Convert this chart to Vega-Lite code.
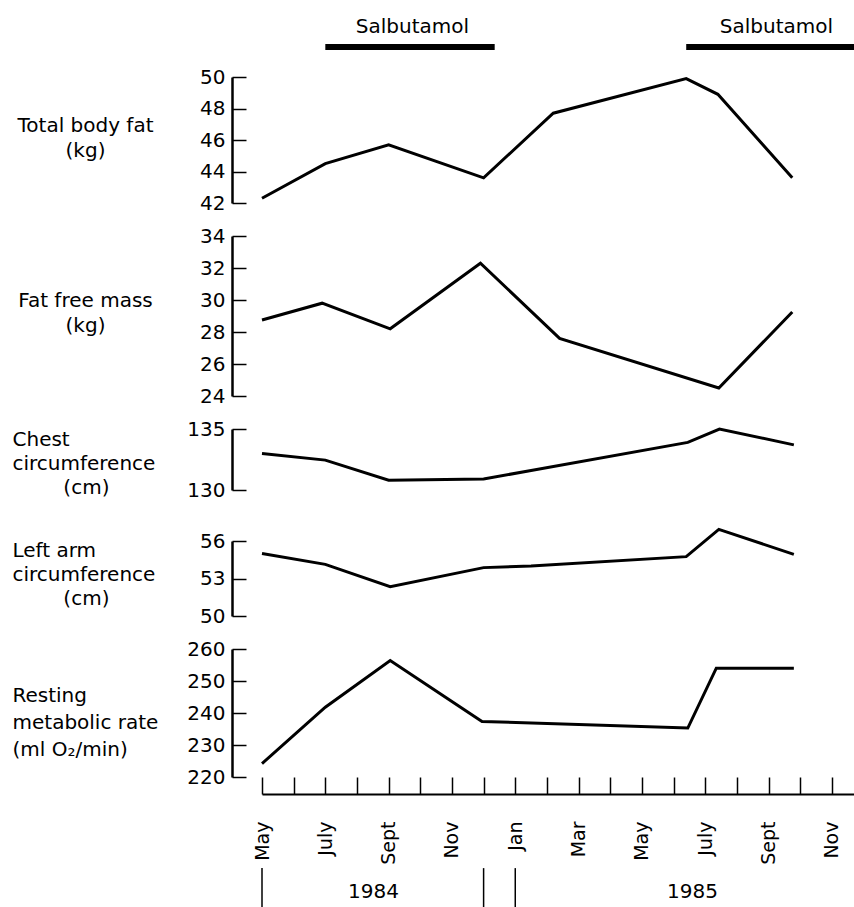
{
  "$schema": "https://vega.github.io/schema/vega-lite/v6.json",
  "background": "white",
  "padding": {"left": 12, "top": 0, "right": 0, "bottom": 0},
  "bounds": "flush",
  "spacing": 0,
  "config": {
    "font": "DejaVu Sans",
    "view": {"stroke": null},
    "axis": {
      "grid": false, "domainColor": "#000", "tickColor": "#000", "labelColor": "#000", "titleColor": "#000",
      "labelFont": "DejaVu Sans", "titleFont": "DejaVu Sans", "labelFontSize": 20, "titleFontSize": 20,
      "titleFontWeight": "normal", "labelFlush": false, "labelOverlap": false, "labelBound": false
    },
    "text": {"font": "DejaVu Sans", "fontSize": 20, "color": "#000"}
  },
  "vconcat": [
    {
      "width": 592, "height": 47,
      "data": {"values": [
        {"start": 2, "end": 7.35, "mid": 4.75, "label": "Salbutamol"},
        {"start": 13.4, "end": 18.7, "mid": 16.25, "label": "Salbutamol"}
      ]},
      "layer": [
        {
          "mark": {"type": "rule", "color": "#000", "strokeWidth": 6},
          "encoding": {
            "x": {"field": "start", "type": "quantitative", "scale": {"domain": [0, 18.7], "nice": false, "zero": false}, "axis": null},
            "x2": {"field": "end"},
            "y": {"datum": 0, "type": "quantitative", "scale": {"domain": [0, 1], "nice": false}, "axis": null}
          }
        },
        {
          "mark": {"type": "text", "fontSize": 20, "baseline": "middle", "align": "center"},
          "encoding": {
            "x": {"field": "mid", "type": "quantitative"},
            "y": {"datum": 0.43, "type": "quantitative"},
            "text": {"field": "label"}
          }
        }
      ]
    },
    {"width": 592, "height": 30, "data": {"values": []}, "mark": "point", "encoding": {}},
    {
      "width": 592, "height": 126,
      "data": {"values": [
        {"month": 0, "value": 42.3}, {"month": 2, "value": 44.5}, {"month": 4, "value": 45.7},
        {"month": 7, "value": 43.6}, {"month": 9.2, "value": 47.7}, {"month": 13.4, "value": 49.9},
        {"month": 14.4, "value": 48.9}, {"month": 16.75, "value": 43.6}
      ]},
      "mark": {"type": "line", "color": "#000", "strokeWidth": 3},
      "encoding": {
        "x": {"field": "month", "type": "quantitative", "scale": {"domain": [0, 18.7], "nice": false, "zero": false}, "axis": null},
        "y": {"field": "value", "type": "quantitative", "scale": {"domain": [42, 50], "nice": false, "zero": false},
          "axis": {"values": [42, 44, 46, 48, 50], "offset": 30, "tickSize": -14, "tickWidth": 1.5, "domainWidth": 2.5, "labelPadding": 21,
            "title": ["Total body fat", "(kg)"], "titleAngle": 0, "titleAlign": "center", "titleBaseline": "middle",
            "titleX": -147, "titleY": 48, "titleLineHeight": 25}}
      }
    },
    {"width": 592, "height": 33, "data": {"values": []}, "mark": "point", "encoding": {}},
    {
      "width": 592, "height": 160,
      "data": {"values": [
        {"month": 0, "value": 28.75}, {"month": 1.9, "value": 29.8}, {"month": 4.05, "value": 28.2},
        {"month": 6.9, "value": 32.3}, {"month": 9.4, "value": 27.6}, {"month": 14.43, "value": 24.5},
        {"month": 16.75, "value": 29.25}
      ]},
      "mark": {"type": "line", "color": "#000", "strokeWidth": 3},
      "encoding": {
        "x": {"field": "month", "type": "quantitative", "scale": {"domain": [0, 18.7], "nice": false, "zero": false}, "axis": null},
        "y": {"field": "value", "type": "quantitative", "scale": {"domain": [24, 34], "nice": false, "zero": false},
          "axis": {"values": [24, 26, 28, 30, 32, 34], "offset": 30, "tickSize": -14, "tickWidth": 1.5, "domainWidth": 2.5, "labelPadding": 21,
            "title": ["Fat free mass", "(kg)"], "titleAngle": 0, "titleAlign": "center", "titleBaseline": "middle",
            "titleX": -147, "titleY": 64, "titleLineHeight": 25}}
      }
    },
    {"width": 592, "height": 33, "data": {"values": []}, "mark": "point", "encoding": {}},
    {
      "width": 592, "height": 61,
      "data": {"values": [
        {"month": 0, "value": 133.0}, {"month": 2, "value": 132.45}, {"month": 4, "value": 130.8},
        {"month": 7, "value": 130.9}, {"month": 8.5, "value": 131.6}, {"month": 13.45, "value": 133.9},
        {"month": 14.45, "value": 135.0}, {"month": 16.8, "value": 133.7}
      ]},
      "mark": {"type": "line", "color": "#000", "strokeWidth": 3},
      "encoding": {
        "x": {"field": "month", "type": "quantitative", "scale": {"domain": [0, 18.7], "nice": false, "zero": false}, "axis": null},
        "y": {"field": "value", "type": "quantitative", "scale": {"domain": [130, 135], "nice": false, "zero": false},
          "axis": {"values": [130, 135], "offset": 30, "tickSize": -14, "tickWidth": 1.5, "domainWidth": 2.5, "labelPadding": 21,
            "title": ["Chest", "circumference", "\u200b\u00a0\u00a0\u00a0\u00a0\u00a0\u00a0\u00a0\u00a0(cm)"], "titleAngle": 0, "titleAlign": "left", "titleBaseline": "middle",
            "titleX": -220, "titleY": 10, "titleLineHeight": 24}}
      }
    },
    {"width": 592, "height": 51, "data": {"values": []}, "mark": "point", "encoding": {}},
    {
      "width": 592, "height": 75,
      "data": {"values": [
        {"month": 0, "value": 55.0}, {"month": 2, "value": 54.13}, {"month": 4.05, "value": 52.35},
        {"month": 7, "value": 53.87}, {"month": 8.5, "value": 54.0}, {"month": 13.4, "value": 54.75},
        {"month": 14.43, "value": 56.93}, {"month": 16.8, "value": 54.93}
      ]},
      "mark": {"type": "line", "color": "#000", "strokeWidth": 3},
      "encoding": {
        "x": {"field": "month", "type": "quantitative", "scale": {"domain": [0, 18.7], "nice": false, "zero": false}, "axis": null},
        "y": {"field": "value", "type": "quantitative", "scale": {"domain": [50, 56], "nice": false, "zero": false},
          "axis": {"values": [50, 53, 56], "offset": 30, "tickSize": -14, "tickWidth": 1.5, "domainWidth": 2.5, "labelPadding": 21,
            "title": ["Left arm", "circumference", "\u200b\u00a0\u00a0\u00a0\u00a0\u00a0\u00a0\u00a0\u00a0(cm)"], "titleAngle": 0, "titleAlign": "left", "titleBaseline": "middle",
            "titleX": -220, "titleY": 9, "titleLineHeight": 24}}
      }
    },
    {"width": 592, "height": 33, "data": {"values": []}, "mark": "point", "encoding": {}},
    {
      "width": 592, "height": 128,
      "data": {"values": [
        {"month": 0, "value": 224.2}, {"month": 2, "value": 241.8}, {"month": 4.05, "value": 256.4},
        {"month": 6.95, "value": 237.35}, {"month": 13.45, "value": 235.3}, {"month": 14.35, "value": 254.0},
        {"month": 16.8, "value": 254.0}
      ]},
      "mark": {"type": "line", "color": "#000", "strokeWidth": 3},
      "encoding": {
        "x": {"field": "month", "type": "quantitative", "scale": {"domain": [0, 18.7], "nice": false, "zero": false},
          "axis": {"values": [0,1,2,3,4,5,6,7,8,9,10,11,12,13,14,15,16,17,18],
            "labelExpr": "['May','','July','','Sept','','Nov','','Jan','','Mar','','May','','July','','Sept','','Nov'][datum.value]",
            "labelAngle": 270, "labelFontSize": 19, "offset": 17, "tickSize": -17, "tickWidth": 1.5, "domainWidth": 2,
            "labelPadding": 44, "title": null}},
        "y": {"field": "value", "type": "quantitative", "scale": {"domain": [220, 260], "nice": false, "zero": false},
          "axis": {"values": [220, 230, 240, 250, 260], "offset": 30, "tickSize": -14, "tickWidth": 1.5, "domainWidth": 2.5, "labelPadding": 21,
            "title": ["Resting", "metabolic rate", "(ml O\u2082/min)"], "titleAngle": 0, "titleAlign": "left", "titleBaseline": "middle",
            "titleX": -220, "titleY": 46, "titleLineHeight": 27}}
      }
    },
    {"width": 592, "height": 82, "data": {"values": []}, "mark": "point", "encoding": {}},
    {
      "width": 592, "height": 48,
      "layer": [
        {
          "data": {"values": [{"month": 0}, {"month": 7}, {"month": 8}]},
          "mark": {"type": "rule", "color": "#000", "strokeWidth": 1.5},
          "encoding": {
            "x": {"field": "month", "type": "quantitative", "scale": {"domain": [0, 18.7], "nice": false, "zero": false}, "axis": null},
            "y": {"datum": 0.81, "type": "quantitative", "scale": {"domain": [0, 1], "nice": false}, "axis": null},
            "y2": {"datum": 0}
          }
        },
        {
          "data": {"values": [{"month": 3.52, "year": "1984"}, {"month": 13.6, "year": "1985"}]},
          "mark": {"type": "text", "fontSize": 20, "align": "center", "baseline": "middle"},
          "encoding": {
            "x": {"field": "month", "type": "quantitative"},
            "y": {"datum": 0.31, "type": "quantitative"},
            "text": {"field": "year"}
          }
        }
      ]
    }
  ]
}
